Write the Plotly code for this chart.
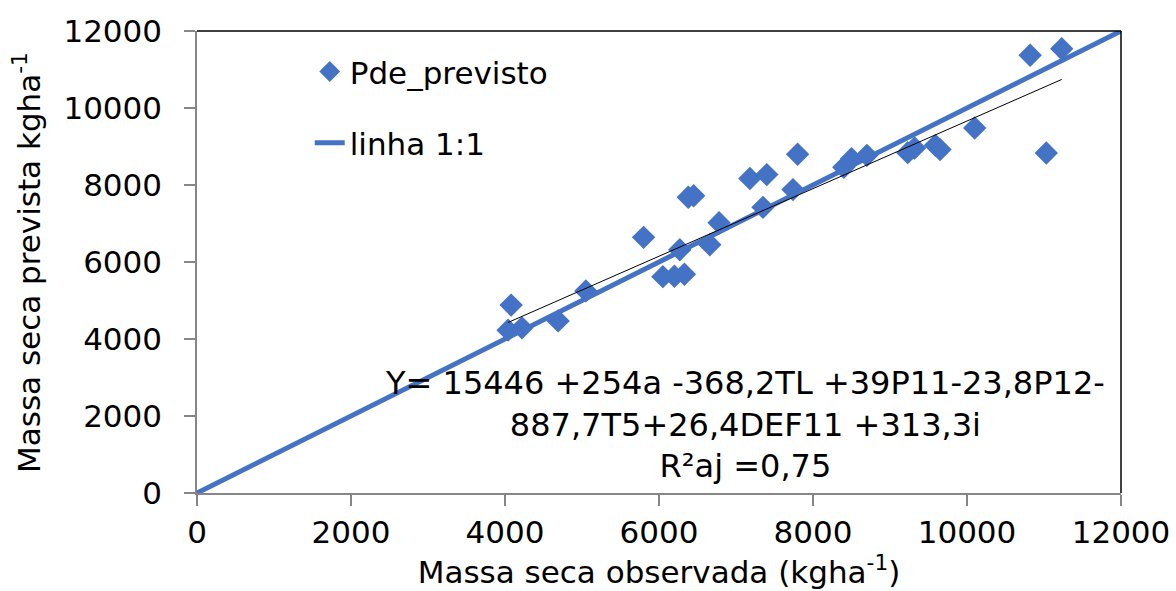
import plotly.graph_objects as go

# Observed vs predicted dry mass (kg/ha)
obs = [4040, 4080, 4220, 4690, 5050, 5800, 6050, 6200, 6330, 6270,
       6380, 6450, 6660, 6780, 7180, 7400, 7350, 7740, 7800, 8400,
       8500, 8700, 9230, 9320, 9590, 9650, 10100, 10820, 11230, 11030]
pred = [4230, 4880, 4290, 4470, 5250, 6640, 5620, 5630, 5680, 6320,
        7680, 7720, 6450, 7020, 8170, 8270, 7420, 7880, 8800, 8460,
        8680, 8770, 8840, 8960, 9030, 8920, 9480, 11370, 11540, 8830]

# 1:1 reference line
ref_line = [0, 12000]

# linear trend (Excel trendline) coefficients
trend_slope = 0.878
trend_intercept = 882

x_ticks = [0, 2000, 4000, 6000, 8000, 10000, 12000]
y_ticks = [0, 2000, 4000, 6000, 8000, 10000, 12000]
x_ticklabels = ["0", "2000", "4000", "6000", "8000", "10000", "12000"]
y_ticklabels = ["0", "2000", "4000", "6000", "8000", "10000", "12000"]

blue = "#4472C4"
FONT = "DejaVu Sans"
FS = 31

trend_x = [min(obs), max(obs)]
trend_y = [trend_intercept + trend_slope * v for v in trend_x]

fig = go.Figure()
fig.add_trace(go.Scatter(
    x=obs, y=pred, mode="markers", name="Pde_previsto",
    marker=dict(symbol="diamond", size=18, color=blue, line=dict(width=0)),
    legendgroup="a",
))
fig.add_trace(go.Scatter(
    x=ref_line, y=ref_line, mode="lines", name="linha 1:1",
    line=dict(color=blue, width=5), legendgroup="b",
))
fig.add_trace(go.Scatter(
    x=trend_x, y=trend_y, mode="lines", showlegend=False,
    line=dict(color="black", width=1), hoverinfo="skip",
))

axis_common = dict(
    range=[0, 12000], showgrid=False, zeroline=False, automargin=False,
    showline=True, linecolor="#868686", linewidth=1.5,
    ticks="outside", ticklen=11, tickcolor="#868686", tickwidth=1.5,
    tickfont=dict(family=FONT, size=FS, color="black"),
)

fig.update_xaxes(**axis_common, tickvals=x_ticks, ticktext=x_ticklabels,
                 title=dict(text="Massa seca observada (kgha<sup>-1</sup>)",
                            font=dict(family=FONT, size=FS, color="black"),
                            standoff=6),
                 ticklabelstandoff=0)
fig.update_yaxes(**axis_common, tickvals=y_ticks, ticktext=y_ticklabels,
                 ticklabelstandoff=16)

# y-axis title placed to match the reference position
fig.add_annotation(
    xref="paper", yref="paper", x=-0.184, y=0.5, xanchor="center", yanchor="middle",
    text="Massa seca prevista kgha<sup>-1</sup>", textangle=-90, showarrow=False,
    font=dict(family=FONT, size=FS, color="black"),
)

# plot-area frame (top and right)
fig.add_shape(type="line", xref="x domain", yref="y domain", x0=0, x1=1, y0=1, y1=1,
              line=dict(color="black", width=1.5))
fig.add_shape(type="line", xref="x domain", yref="y domain", x0=1, x1=1, y0=0, y1=1,
              line=dict(color="black", width=1.5))

fig.add_annotation(
    xref="paper", yref="paper", x=0.593, y=0.149, xanchor="center", yanchor="middle",
    text="Y= 15446 +254a -368,2TL +39P11-23,8P12-<br>887,7T5+26,4DEF11 +313,3i<br>R²aj =0,75",
    showarrow=False, align="center",
    font=dict(family=FONT, size=32, color="black"),
)

fig.update_layout(
    width=1176, height=591,
    margin=dict(l=197, r=55, t=31, b=98),
    paper_bgcolor="white", plot_bgcolor="white",
    font=dict(family=FONT, size=FS, color="black"),
    legend=dict(x=0.122, y=0.97, xanchor="left", yanchor="top",
                bgcolor="rgba(0,0,0,0)", tracegroupgap=28,
                font=dict(family=FONT, size=FS, color="black")),
)

fig.write_html("out.html")
